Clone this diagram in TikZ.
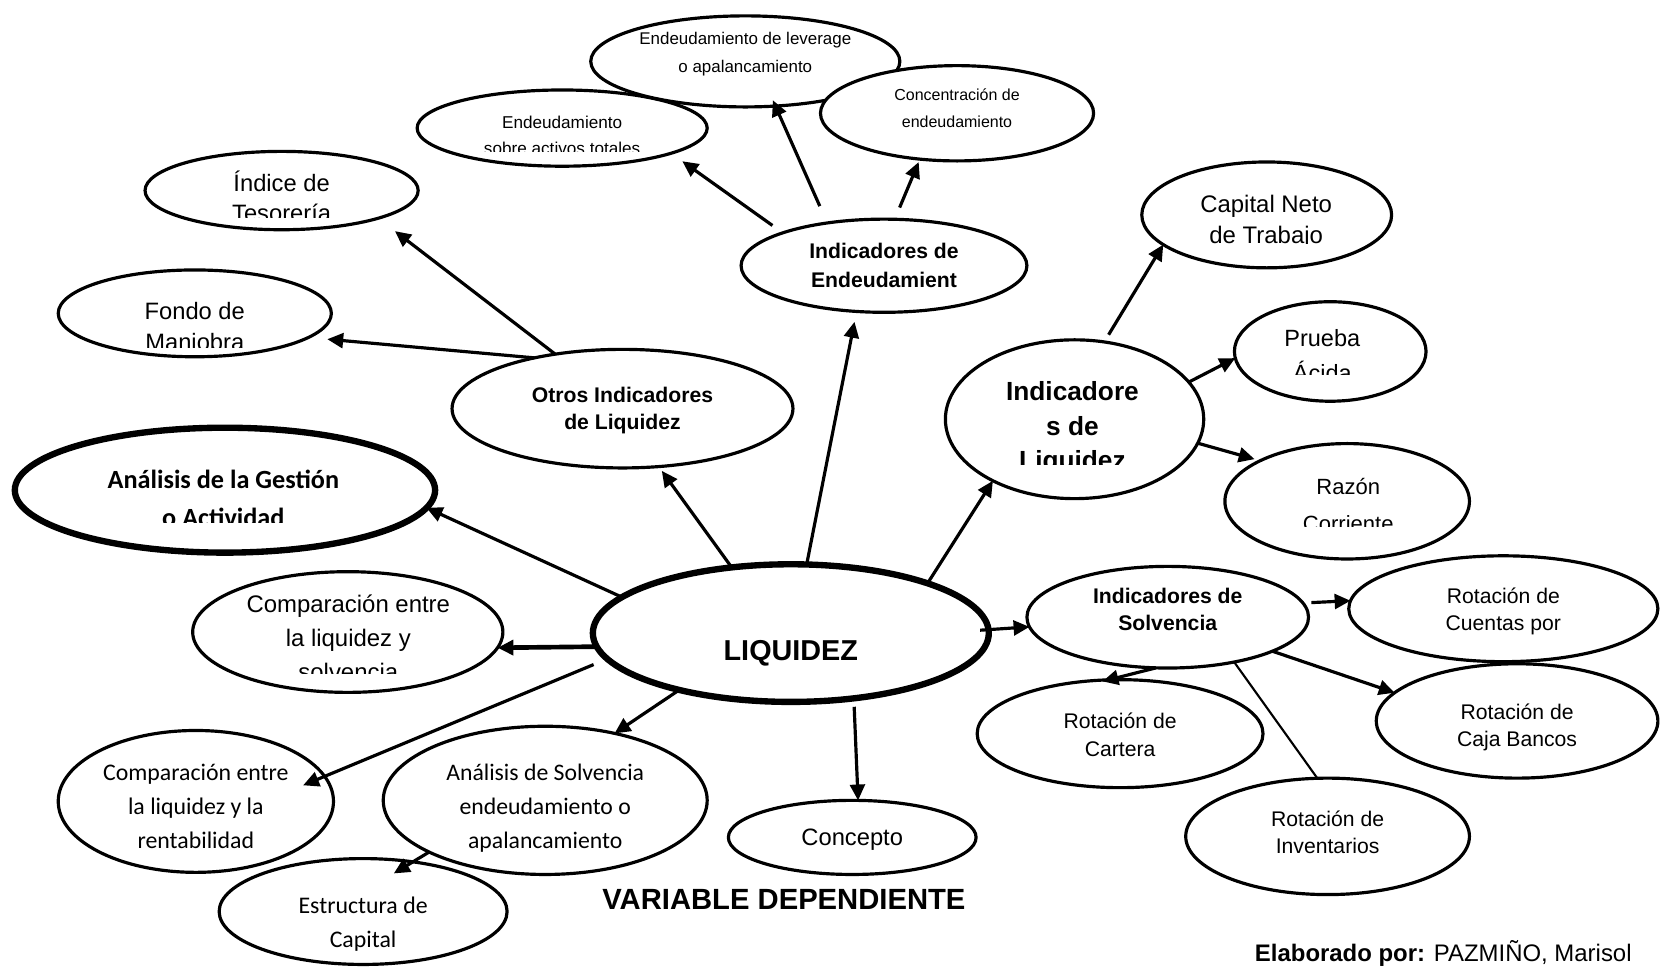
\documentclass[tikz,border=0pt]{standalone}
\usepackage{fontspec}
\setmainfont{Liberation Sans}
\newfontfamily\arialn{Liberation Sans}
\newfontfamily\calibn{Carlito}
\usetikzlibrary{shapes.geometric,arrows.meta,calc}

% font size / line spacing
\newcommand\fs[2]{\fontsize{#1pt}{#2pt}\selectfont}
% centred lines, box baseline = first line
\newcommand\lns[1]{\vtop{\lineskiplimit=-100pt\relax\halign{\hfil##\hfil\cr#1\crcr}}}
% lines whose first baseline sits #1 pt above the node centre
\newcommand\tx[2]{\raisebox{#1pt}[0pt][0pt]{\lns{#2}}}

\begin{document}
\begin{tikzpicture}[x=0.5pt, y=-0.5pt,
  oval/.style={ellipse, draw, fill=white, line width=1.5pt, inner sep=0pt, outer sep=0pt},
  sz/.style 2 args={minimum width=#1pt, minimum height=#2pt},
  conn/.style={line width=1.5pt, -{Triangle[length=7.5pt,width=7pt]}},
  plainline/.style={line width=1pt},
  txt/.style={inner sep=0pt, anchor=base}]

\path[fill=white] (0,0) rectangle (1568,914);
\useasboundingbox (0,0) rectangle (1568,914);

% ---------- debt indicators cluster ----------
\node[oval, sz={137}{36}] (sob) at (531,121) {};
\node[oval, sz={146}{43}, font=\arialn\fs{8}{13}] (lev) at (704,58)
  {\tx{7.75}{Endeudamiento de leverage\cr o apalancamiento}};
\node[oval, sz={129}{45}, font=\arialn\fs{7.55}{13}] (conc) at (904,107)
  {\tx{6.25}{Concentración de\cr endeudamiento}};
\begin{scope}
  \clip (394,80) rectangle (668,143);
  \node[txt, font=\arialn\fs{8.1}{12.5}] (sob-t) at (531,121) {\lns{Endeudamiento\cr sobre activos totales}};
\end{scope}
\node[oval, sz={135}{44}, font=\arialn\bfseries\fs{10}{13.5}] (IndEnd) at (835,251)
  {\tx{3.25}{Indicadores de\cr Endeudamient}};

% ---------- other liquidity indicators ----------
\node[oval, sz={129}{37}] (tes) at (266,180) {};
\begin{scope}
  \clip (137,140) rectangle (395,205);
  \node[txt, font=\arialn\fs{11.2}{14}] (tes-t) at (266,181) {\lns{Índice de\cr Tesorería}};
\end{scope}
\node[oval, sz={129}{41}] (fondo) at (184,296) {};
\begin{scope}
  \clip (55,250) rectangle (313,328);
  \node[txt, font=\arialn\fs{11.2}{14.5}] (fondo-t) at (184,302) {\lns{Fondo de\cr Maniobra}};
\end{scope}
\node[oval, sz={161}{56}, font=\arialn\bfseries\fs{10}{13}] (otros) at (588,386)
  {\tx{3}{Otros Indicadores\cr de Liquidez}};

% ---------- left side ----------
\node[oval, line width=3pt, sz={198.5}{59}] (gest) at (212.5,463) {};
\begin{scope}
  \clip (15,400) rectangle (410,494);
  \node[txt, font=\calibn\bfseries\fs{12.4}{18}] (gest-t) at (211,461) {\lns{Análisis de la Gestión\cr o Actividad}};
\end{scope}
\node[oval, sz={146.5}{57}] (comp1) at (328.5,597) {};
\begin{scope}
  \clip (183,540) rectangle (475,636);
  \node[txt, font=\arialn\fs{11.3}{16}] (comp1-t) at (329,579) {\lns{Comparación entre\cr la liquidez y\cr solvencia}};
\end{scope}

% ---------- centre ----------
\node[oval, line width=3pt, sz={187}{65}, font=\arialn\bfseries\fs{13.6}{16}] (liq) at (747,598)
  {\tx{-12.75}{LIQUIDEZ}};

% ---------- bottom ----------
\node[oval, sz={130}{67}, font=\calibn\fs{11.25}{16}] (comp2) at (185,757)
  {\tx{10}{Comparación entre\cr la liquidez y la\cr rentabilidad}};
\node[oval, sz={153}{70}, font=\calibn\fs{11.2}{16}] (anal) at (515,756)
  {\tx{9.5}{Análisis de Solvencia\cr endeudamiento o\cr apalancamiento}};
\node[oval, sz={136}{50}, font=\calibn\fs{11.25}{16}] (estr) at (343,861)
  {\tx{-1}{Estructura de\cr Capital}};
\node[oval, sz={117}{35}, font=\arialn\fs{11.2}{15}] (concepto) at (805,791)
  {\tx{-4}{Concepto}};

% ---------- liquidity indicators ----------
\node[oval, sz={118}{50}] (capNeto) at (1196.5,203) {};
\begin{scope}
  \clip (1077,150) rectangle (1315,230);
  \node[txt, font=\arialn\fs{11.3}{14.5}] (capNeto-t) at (1196,201) {\lns{Capital Neto\cr de Trabajo}};
\end{scope}
\node[oval, sz={122}{75}] (IndLiq) at (1015,396) {};
\begin{scope}
  \clip (892,315) rectangle (1137,438.5);
  \node[txt, font=\arialn\bfseries\fs{12.4}{16.3}] (IndLiq-t) at (1013,378.5) {\lns{Indicadore\cr s de\cr Liquidez}};
\end{scope}
\node[oval, sz={90.5}{47}] (prueba) at (1256.5,332) {};
\begin{scope}
  \clip (1165,280) rectangle (1347,354);
  \node[txt, font=\arialn\fs{11.1}{16.5}] (prueba-t) at (1249,327) {\lns{Prueba\cr Ácida}};
\end{scope}
\node[oval, sz={115.5}{54.5}] (razon) at (1272.5,473.5) {};
\begin{scope}
  \clip (1157,415) rectangle (1389,497);
  \node[txt, font=\arialn\fs{10.4}{17.5}] (razon-t) at (1273.5,467) {\lns{Razón\cr Corriente}};
\end{scope}

% ---------- solvency indicators ----------
\node[oval, sz={133}{48}, font=\arialn\bfseries\fs{10}{13}] (IndSolv) at (1103,583)
  {\tx{6.5}{Indicadores de\cr Solvencia}};
\node[oval, sz={146}{50}, font=\arialn\fs{10}{12.75}] (rotCta) at (1420,575)
  {\tx{2.5}{Rotación de\cr Cuentas por}};
\node[oval, sz={133}{54}, font=\arialn\fs{10}{12.75}] (rotCaj) at (1433,681)
  {\tx{0.5}{Rotación de\cr Caja Bancos}};
\node[oval, sz={135}{51}, font=\arialn\fs{10}{13.25}] (rotCar) at (1058,693)
  {\tx{2.5}{Rotación de\cr Cartera}};
\node[oval, sz={134}{55}, font=\arialn\fs{10}{12.75}] (rotInv) at (1254,790)
  {\tx{4.5}{Rotación de\cr Inventarios}};

% ---------- captions ----------
\node[txt, font=\arialn\bfseries\fs{13.8}{16}] (vardep) at (740.5,859) {VARIABLE DEPENDIENTE};
\node[txt, anchor=base west, font=\arialn\fs{11.3}{14}] (autor) at (1185,908)
  {\textbf{Elaborado por:} PAZMIÑO, Marisol};

% ---------- connectors ----------
\draw[conn, shorten <=6pt, shorten >=6.5pt] (IndEnd.162) -- (sob.347);
\draw[conn, shorten <=8.7pt, shorten >=-3pt] (IndEnd.143) -- (lev.304.6);
\draw[conn, shorten <=6pt, shorten >=1.5pt] (IndEnd.77) -- (conc.231.7);

\draw[conn, shorten >=10pt] (otros.141.3) -- (tes.344.5);
\draw[conn, shorten >=9pt] (otros.150) -- (fondo.348.4);

\draw[conn, shorten >=2.5pt] (liq.132.6) -- (otros.302);
\draw[conn, shorten >=5pt] (liq.77) -- (IndEnd.239.8);
\draw[conn] (liq.20.9) -- (IndLiq.217);
\draw[conn] (liq.168) -- (gest.355);
\draw[conn, line width=2.2pt] (liq.184.4) -- (comp1.354.2);
\draw[conn, shorten <=7pt, shorten >=-11pt] (liq.188.3) -- (comp2.11.8);
\draw[conn] (liq.207.2) -- (anal.44.6);
\draw[conn, shorten <=4pt] (liq.314.2) -- (concepto.81.9);
\draw[conn, shorten <=-4pt] (liq.1.8) -- (IndSolv.184);

\draw[conn] (anal.204.8) -- ($(estr.center)+(29,-36)$);

\draw[conn, shorten <=4pt] (IndLiq.69) -- (capNeto.196.2);
\draw[conn] (IndLiq.18) -- (prueba.184.4);
\draw[conn, shorten >=2.75pt] (IndLiq.349.9) -- (razon.155.7);

\draw[conn, shorten <=4pt] (IndSolv.6.3) -- (rotCta.177.6);
\draw[conn] (IndSolv.342.8) -- (rotCaj.167.5);
\draw[conn, shorten >=-3pt] (IndSolv.257) -- (rotCar.102.2);
\draw[plainline] (IndSolv.326.7) -- (rotInv.100.3);

\end{tikzpicture}
\end{document}
